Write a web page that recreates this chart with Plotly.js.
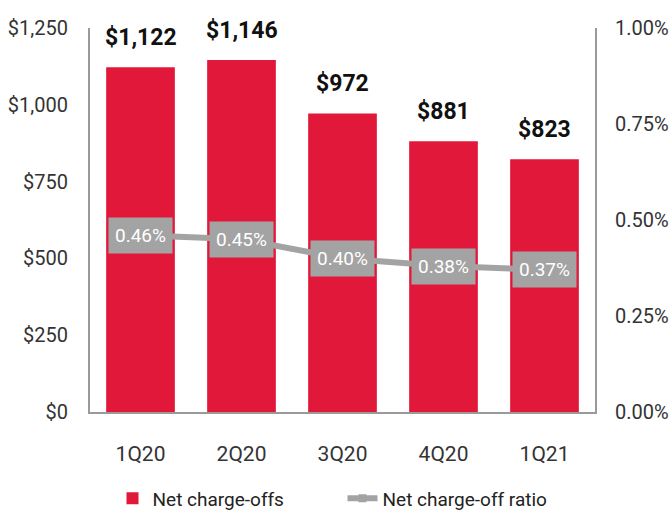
<!DOCTYPE html>
<html>
<head>
<meta charset="utf-8">
<script src="https://cdn.plot.ly/plotly-3.0.1.min.js"></script>
<style>
  html, body { margin: 0; padding: 0; background: #fff; }
  #chart { width: 669px; height: 510px; }
</style>
</head>
<body>
<div id="chart"></div>
<script>
// quarters and values
var quarters = ["1Q20", "2Q20", "3Q20", "4Q20", "1Q21"];
var netChargeOffs = [1122, 1146, 972, 881, 823];        // $ millions
var netChargeOffRatio = [0.0046, 0.0045, 0.0040, 0.0038, 0.0037];

var leftTicks = [0, 250, 500, 750, 1000, 1250];
var leftTickText = ["$0", "$250", "$500", "$750", "$1,000", "$1,250"];
var rightTicks = [0, 0.0025, 0.005, 0.0075, 0.01];

var fontFam = "Roboto, 'Liberation Sans Narrow', sans-serif";
var red = "#e1183a";
var grey = "#a3a3a3";

var bars = {
  x: quarters,
  y: netChargeOffs,
  type: "bar",
  name: "Net charge-offs",
  marker: {color: red},
  hoverinfo: "skip"
};

var ratioLine = {
  x: quarters,
  y: netChargeOffRatio,
  yaxis: "y2",
  type: "scatter",
  mode: "lines+markers",
  name: "Net charge-off ratio",
  line: {color: grey, width: 6},
  marker: {color: grey, size: 8, symbol: "square"},
  hoverinfo: "skip"
};

// dollar labels over the bars
var barLabels = quarters.map(function (q, i) {
  return {
    x: q, y: netChargeOffs[i], xref: "x", yref: "y",
    text: "<b>$" + netChargeOffs[i].toLocaleString("en-US") + "</b>",
    showarrow: false, yanchor: "bottom", yshift: 14,
    font: {family: fontFam, size: 23, color: "#111"}
  };
});

// grey boxes on the ratio line
var ratioLabels = quarters.map(function (q, i) {
  return {
    x: q, y: netChargeOffRatio[i], xref: "x", yref: "y2",
    text: (netChargeOffRatio[i] * 100).toFixed(2) + "%",
    showarrow: false, bgcolor: grey, borderpad: 6,
    font: {family: fontFam, size: 19, color: "#fff"}
  };
});

var layout = {
  width: 669,
  height: 510,
  margin: {l: 90, r: 74, t: 28, b: 98, autoexpand: false},
  paper_bgcolor: "#fff",
  plot_bgcolor: "#fff",
  font: {family: fontFam, size: 20, color: "#333"},
  bargap: 0.32,
  showlegend: true,
  legend: {
    orientation: "h", x: 0.5, xanchor: "center", y: -0.225, yanchor: "middle",
    font: {family: fontFam, size: 19, color: "#222"},
    entrywidth: 185, entrywidthmode: "pixels",
    traceorder: "normal"
  },
  xaxis: {
    showgrid: false, zeroline: false,
    showline: true, linecolor: "#9a9a9a", linewidth: 2,
    ticks: "", ticklabelstandoff: 22,
    tickfont: {family: fontFam, size: 21, color: "#333"}
  },
  yaxis: {
    range: [0, 1250],
    tickvals: leftTicks, ticktext: leftTickText,
    showgrid: false, zeroline: false,
    showline: true, linecolor: "#9a9a9a", linewidth: 2,
    ticks: "", ticklabelstandoff: 16,
    tickfont: {family: fontFam, size: 20, color: "#333"}
  },
  yaxis2: {
    overlaying: "y", side: "right",
    range: [0, 0.01],
    tickvals: rightTicks, tickformat: ".2%",
    showgrid: false, zeroline: false,
    showline: true, linecolor: "#9a9a9a", linewidth: 2,
    ticks: "", ticklabelstandoff: 14,
    tickfont: {family: fontFam, size: 20, color: "#333"}
  },
  annotations: barLabels.concat(ratioLabels)
};

Plotly.newPlot("chart", [bars, ratioLine], layout, {displayModeBar: false, staticPlot: true});
</script>
</body>
</html>
